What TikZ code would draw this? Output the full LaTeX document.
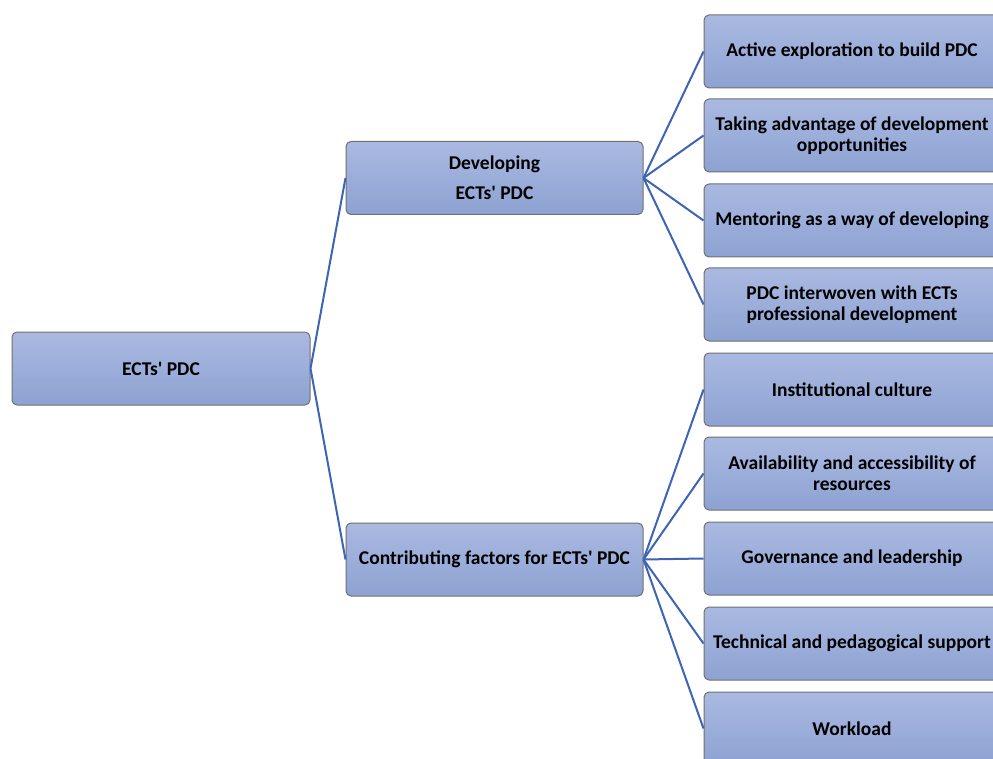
\documentclass[tikz,border=0pt]{standalone}
\usepackage{fontspec}
\setmainfont{Carlito}[Ligatures=TeXOff]
\definecolor{boxtop}{RGB}{170,185,225}
\definecolor{boxbot}{RGB}{141,162,210}
\definecolor{boxline}{RGB}{112,112,112}
\definecolor{conn}{RGB}{62,100,180}
\tikzset{
  box/.style={draw=boxline, line width=1pt, rounded corners=5pt,
    top color=boxtop, bottom color=boxbot,
    minimum height=73pt, inner sep=1pt, align=center,
    font=\fontsize{19.5}{21}\selectfont\bfseries},
  midbox/.style={box, minimum width=297pt},
  leafbox/.style={box, minimum width=296pt},
  link/.style={draw=conn, line width=2pt}
}
\begin{document}
\begin{tikzpicture}[x=1pt,y=-1pt]
\useasboundingbox (0,0) rectangle (993,759);
\clip (0,0) rectangle (993,759);
\node[box, minimum width=298pt] (root) at (161,368.5) {ECTs' PDC};
\node[midbox] (dev) at (494.5,178) {Developing\\[9pt]ECTs' PDC};
\node[midbox] (con) at (494.5,559.5) {Contributing factors for ECTs' PDC};
\node[leafbox] (a1) at (852,51.5) {Active exploration to build PDC};
\node[leafbox] (a2) at (852,135.5) {Taking advantage of development\\opportunities};
\node[leafbox] (a3) at (852,220.5) {Mentoring as a way of developing};
\node[leafbox] (a4) at (852,304.5) {PDC interwoven with ECTs\\professional development};
\node[leafbox] (b1) at (852,389.5) {Institutional culture};
\node[leafbox] (b2) at (852,473.5) {Availability and accessibility of\\resources};
\node[leafbox] (b3) at (852,558.5) {Governance and leadership};
\node[leafbox] (b4) at (852,643.5) {Technical and pedagogical support};
\node[leafbox] (b5) at (852,728.5) {Workload};
\draw[link] (root.east) -- (dev.west);
\draw[link] (root.east) -- (con.west);
\foreach \n in {a1,a2,a3,a4} \draw[link] (dev.east) -- (\n.west);
\foreach \n in {b1,b2,b3,b4,b5} \draw[link] (con.east) -- (\n.west);
\end{tikzpicture}
\end{document}
